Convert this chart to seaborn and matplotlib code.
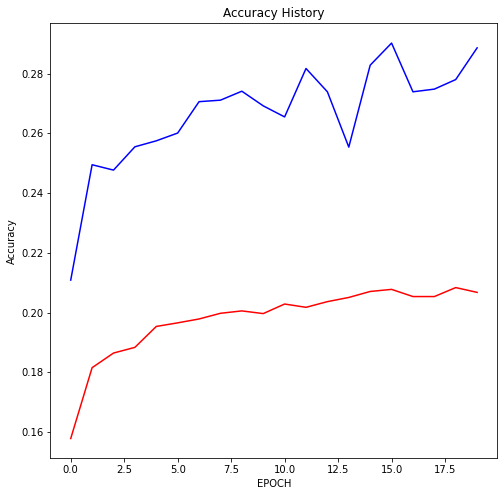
import numpy as np
import matplotlib
matplotlib.use("Agg")
import matplotlib.pyplot as plt
import seaborn as sns

# accuracy per epoch
epochs = list(range(20))
acc_blue = [0.2109, 0.2495, 0.2477, 0.2555, 0.2575, 0.2601, 0.2706, 0.2711, 0.2741, 0.2692,
            0.2655, 0.2817, 0.2739, 0.2554, 0.2828, 0.2902, 0.2739, 0.2748, 0.2780, 0.2886]
acc_red = [0.1579, 0.1816, 0.1865, 0.1884, 0.1954, 0.1966, 0.1979, 0.1998, 0.2006, 0.1997,
           0.2029, 0.2018, 0.2037, 0.2051, 0.2071, 0.2078, 0.2054, 0.2054, 0.2084, 0.2068]

fig, ax = plt.subplots(figsize=(7, 496 / 72), dpi=72)
fig.subplots_adjust(left=0.1, right=0.987, bottom=0.076, top=0.953)

sns.lineplot(x=epochs, y=acc_blue, color='blue', ax=ax)
sns.lineplot(x=epochs, y=acc_red, color='red', ax=ax)

ax.set_title('Accuracy History')
ax.set_xlabel('EPOCH')
ax.set_ylabel('Accuracy')

fig.savefig('out.png', dpi=72)
